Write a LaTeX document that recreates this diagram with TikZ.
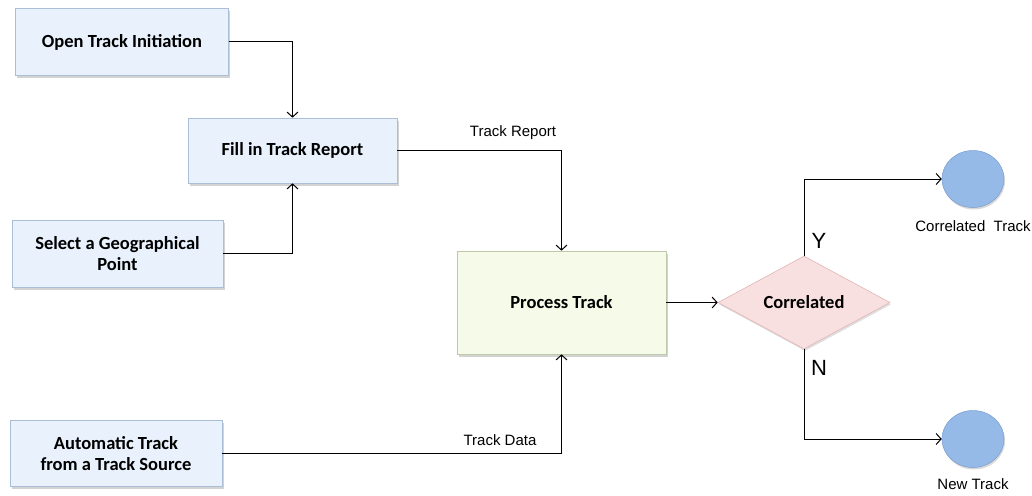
\documentclass[tikz,border=0pt]{standalone}
\usepackage{fontspec}
\setmainfont{Liberation Sans}
\newfontfamily\boxfont{Carlito}
\usetikzlibrary{shapes.geometric,shadows,arrows.meta}
\definecolor{blue1}{RGB}{232,241,252}
\definecolor{blue2}{RGB}{170,190,215}
\definecolor{green1}{RGB}{246,251,233}
\definecolor{green2}{RGB}{190,200,170}
\definecolor{pink1}{RGB}{249,224,224}
\definecolor{pink2}{RGB}{225,180,180}
\definecolor{ball1}{RGB}{150,186,232}
\definecolor{ball2}{RGB}{120,155,205}

\tikzset{
  stepbox/.style={rectangle, fill=blue1, draw=blue2, line width=0.6pt,
    drop shadow={shadow xshift=1.5pt, shadow yshift=-2.5pt, opacity=0.35},
    font=\boxfont\bfseries\fontsize{18.5}{21}\selectfont, align=center,
    inner sep=0pt},
  procbox/.style={stepbox, fill=green1, draw=green2},
  decide/.style={diamond, fill=pink1, draw=pink2, line width=0.6pt,
    drop shadow={shadow xshift=1pt, shadow yshift=-2pt, opacity=0.25},
    font=\boxfont\bfseries\fontsize{18.5}{21}\selectfont, inner sep=0pt},
  endball/.style={ellipse, fill=ball1, draw=ball2, line width=0.5pt,
    drop shadow={shadow xshift=1pt, shadow yshift=-2pt, opacity=0.3},
    inner sep=0pt, minimum width=62pt, minimum height=57pt},
  lbl/.style={font=\fontsize{15}{17}\selectfont},
  yn/.style={font=\fontsize{22}{24}\selectfont},
  flow/.style={->, line width=1pt},
  >={Straight Barb[length=5pt,width=11pt]}
}

\begin{document}
\begin{tikzpicture}[x=1pt,y=-1pt]
\useasboundingbox (0,0) rectangle (1032,495);

% input boxes
\node[stepbox, minimum width=213pt, minimum height=67pt] (open) at (122,42) {Open Track Initiation};
\node[stepbox, minimum width=209pt, minimum height=65pt] (fill) at (292.5,150.5) {Fill in Track Report};
\node[stepbox, minimum width=211pt, minimum height=67pt] (select) at (117.5,253.5) {Select a Geographical\\Point};
\node[stepbox, minimum width=212pt, minimum height=66pt] (auto) at (116,453.5) {Automatic Track\\from a Track Source};

% processing
\node[procbox, minimum width=209pt, minimum height=103pt] (proc) at (561.5,302.5) {Process Track};
\node[decide, minimum width=172pt, minimum height=93pt, aspect=1.85] (corr) at (804,302.5) {Correlated};

% outcomes
\node[endball] (ctrack) at (973,179) {};
\node[endball] (ntrack) at (973,439) {};
\node[lbl] (ctracklbl) at (973,226) {Correlated\ \ Track};
\node[lbl] (ntracklbl) at (973,484) {New Track};

% connectors
\draw[flow] (open.east) -| (fill.north);
\draw[flow] (select.east) -| (fill.south);
\draw[flow] (fill.east) -| (proc.north);
\draw[flow] (auto.east) -| (proc.south);
\draw[flow] (proc.east) -- (corr.west);
\draw[flow] (corr.north) |- (ctrack.west);
\draw[flow] (corr.south) |- (ntrack.west);

\node[lbl] (replbl) at (513,133) {Track Report};
\node[lbl] (datalbl) at (500,440) {Track Data};
\node[yn] (ylbl) at (819,241) {Y};
\node[yn] (nlbl) at (819,368) {N};
\end{tikzpicture}
\end{document}
